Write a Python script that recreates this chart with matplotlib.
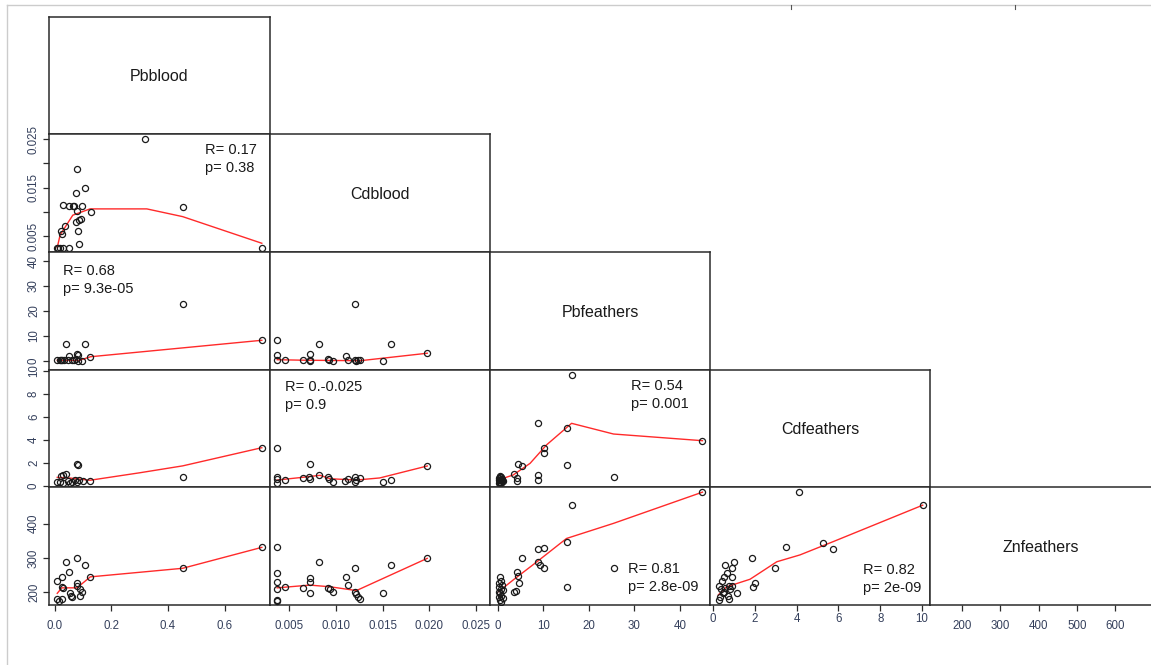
import matplotlib.pyplot as plt
from matplotlib.lines import Line2D

plt.rcParams['font.family'] = ['Liberation Sans', 'DejaVu Sans']

# 变量名
variables = ['Pbblood', 'Cdblood', 'Pbfeathers', 'Cdfeathers', 'Znfeathers']

# 数据
# Pbblood - Cdblood
pbb_cdb_x = [0.32, 0.077, 0.074, 0.106, 0.027, 0.051, 0.063, 0.067, 0.094, 0.079, 0.126, 0.092, 0.086,
             0.074, 0.037, 0.022, 0.024, 0.082, 0.085, 0.452, 0.732, 0.006, 0.012, 0.018, 0.027, 0.05]
pbb_cdb_y = [0.025, 0.0189, 0.0139, 0.0149, 0.0114, 0.0111, 0.0112, 0.0112, 0.0111, 0.0102, 0.0100, 0.0086,
             0.0084, 0.0079, 0.0071, 0.0061, 0.0054, 0.0060, 0.0034, 0.0110, 0.0026, 0.0026, 0.0026, 0.0026,
             0.0026, 0.0026]
pbb_cdb_fx = [0.008, 0.018, 0.063, 0.124, 0.325, 0.452, 0.732]
pbb_cdb_fy = [0.0026, 0.0052, 0.0093, 0.0106, 0.0106, 0.0090, 0.0035]

# Pbblood - Pbfeathers
pbb_pbf_x = [0.452, 0.732, 0.039, 0.106, 0.051, 0.079, 0.083, 0.125, 0.0065, 0.016, 0.024, 0.032, 0.047,
             0.059, 0.067, 0.074, 0.082, 0.094, 0.020]
pbb_pbf_y = [22.6, 8.2, 6.6, 6.6, 1.9, 2.7, 2.3, 1.6, 0.3, 0.2, 0.3, 0.1, 0.1, 0.2, 0.1, 0.5, 0.0, 0.0, 0.1]
pbb_pbf_fx = [0.008, 0.085, 0.126, 0.732]
pbb_pbf_fy = [0.2, 0.1, 1.6, 8.2]

# Pbblood - Cdfeathers
pbb_cdf_x = [0.732, 0.452, 0.079, 0.083, 0.021, 0.029, 0.039, 0.008, 0.018, 0.027, 0.047, 0.059, 0.071,
             0.086, 0.098, 0.124, 0.053, 0.079]
pbb_cdf_y = [3.33, 0.78, 1.94, 1.80, 0.83, 0.97, 1.03, 0.32, 0.37, 0.29, 0.43, 0.32, 0.52, 0.52, 0.43,
             0.43, 0.23, 0.32]
pbb_cdf_fx = [0.008, 0.05, 0.124, 0.3, 0.452, 0.732]
pbb_cdf_fy = [0.75, 0.7, 0.5, 1.15, 1.75, 3.33]

# Pbblood - Znfeathers
pbb_zn_x = [0.732, 0.452, 0.079, 0.039, 0.051, 0.106, 0.125, 0.024, 0.006, 0.025, 0.027, 0.079, 0.079,
            0.090, 0.094, 0.054, 0.058, 0.060, 0.006, 0.015, 0.024, 0.090]
pbb_zn_y = [331, 270, 299, 288, 258, 279, 245, 244, 232, 216, 213, 228, 219, 209, 202, 197, 190, 187,
            180, 176, 180, 189]
pbb_zn_fx = [0.008, 0.024, 0.078, 0.125, 0.452, 0.732]
pbb_zn_fy = [197, 213, 213, 245, 270, 331]

# Cdblood - Pbfeathers
cdb_pbf_x = [0.01205, 0.0037, 0.00815, 0.0159, 0.0198, 0.0037, 0.0072, 0.0111, 0.0091, 0.0093, 0.0037,
             0.0045, 0.0065, 0.0072, 0.0072, 0.0097, 0.0113, 0.0120, 0.0122, 0.0124, 0.0126, 0.0150]
cdb_pbf_y = [22.6, 8.3, 6.6, 6.6, 3.0, 2.2, 2.6, 1.8, 0.6, 0.2, 0.4, 0.3, 0.1, 0.0, 0.3, 0.0, 0.1, 0.3,
             0.0, 0.2, 0.1, 0.0]
cdb_pbf_fx = [0.0037, 0.0065, 0.0126, 0.0198]
cdb_pbf_fy = [0.4, 0.2, 0.0, 3.0]

# Cdblood - Cdfeathers
cdb_cdf_x = [0.0037, 0.0072, 0.0082, 0.0198, 0.0159, 0.0150, 0.0037, 0.0037, 0.0037, 0.0045, 0.0065,
             0.0071, 0.0072, 0.0092, 0.0093, 0.0097, 0.0110, 0.0113, 0.0120, 0.0121, 0.0122, 0.0126]
cdb_cdf_y = [3.33, 1.94, 0.96, 1.74, 0.52, 0.35, 0.81, 0.58, 0.29, 0.52, 0.72, 0.76, 0.58, 0.81, 0.58,
             0.37, 0.46, 0.63, 0.81, 0.32, 0.52, 0.70]
cdb_cdf_fx = [0.0037, 0.0065, 0.0083, 0.0094, 0.0122, 0.0147, 0.0198]
cdb_cdf_fy = [0.52, 0.76, 0.93, 0.63, 0.52, 0.70, 1.74]

# Cdblood - Znfeathers
cdb_zn_x = [0.0037, 0.0198, 0.0159, 0.0082, 0.0120, 0.0111, 0.0113, 0.0037, 0.0037, 0.0037, 0.0037,
            0.0037, 0.0045, 0.0072, 0.0072, 0.0072, 0.0065, 0.0092, 0.0094, 0.0097, 0.0120, 0.0122,
            0.0124, 0.0126, 0.0150]
cdb_zn_y = [331, 299, 280, 287, 270, 245, 221, 257, 231, 209, 178, 175, 216, 243, 229, 197, 213, 212,
            209, 200, 200, 194, 187, 180, 197]
cdb_zn_fx = [0.0037, 0.0072, 0.0094, 0.0122, 0.0198]
cdb_zn_fy = [213, 221, 216, 205, 299]

# Pbfeathers - Cdfeathers
pbf_cdf_x = [16.2, 8.8, 15.1, 10.2, 10.2, 4.5, 5.3, 15.1, 3.6, 4.2, 4.2, 8.8, 8.8, 25.5, 44.9, 0.2, 0.4,
             0.6, 0.8, 1.0, 0.3, 0.5, 0.7, 0.9, 1.1, 0.2, 0.5, 0.8, 0.4, 1.0]
pbf_cdf_y = [9.68, 5.5, 5.07, 3.33, 2.9, 1.9, 1.74, 1.83, 1.0, 0.67, 0.46, 0.96, 0.52, 0.78, 3.94, 0.25,
             0.3, 0.35, 0.3, 0.4, 0.5, 0.55, 0.6, 0.5, 0.45, 0.7, 0.8, 0.75, 0.9, 0.65]
pbf_cdf_fx = [0.1, 3.4, 7.1, 10.7, 16.2, 25.4, 44.9]
pbf_cdf_fy = [0.52, 0.96, 1.97, 3.57, 5.45, 4.52, 3.94]

# Pbfeathers - Znfeathers
pbf_zn_x = [44.9, 16.2, 15.1, 10.2, 8.8, 5.3, 8.8, 9.2, 10.2, 4.3, 4.5, 4.7, 3.6, 4.0, 15.1, 25.5, 0.5,
            0.7, 0.2, 1.0, 0.2, 0.7, 1.1, 0.2, 0.5, 0.8, 0.2, 1.1, 0.4, 0.7]
pbf_zn_y = [492, 454, 346, 330, 325, 299, 289, 280, 270, 258, 247, 228, 202, 205, 216, 270, 244, 234,
            226, 221, 216, 209, 207, 202, 197, 189, 185, 182, 178, 173]
pbf_zn_fx = [0.2, 3.4, 8.6, 15.1, 25.4, 44.9]
pbf_zn_fy = [202, 236, 289, 357, 401, 492]

# Cdfeathers - Znfeathers
cdf_zn_x = [10.03, 4.1, 5.28, 5.73, 3.48, 2.98, 1.88, 1.93, 2.02, 1.02, 0.57, 0.89, 0.65, 0.53, 0.92,
            0.41, 0.29, 0.78, 1.13, 0.37, 0.57, 0.81, 0.46, 0.73, 0.30, 0.78, 0.33, 0.89, 0.53]
cdf_zn_y = [454, 492, 345, 325, 331, 270, 299, 216, 228, 289, 280, 270, 255, 245, 244, 234, 218, 218,
            199, 209, 212, 209, 197, 189, 178, 180, 187, 218, 202]
cdf_zn_fx = [0.25, 0.65, 1.77, 3.05, 4.16, 5.76, 10.03]
cdf_zn_fy = [192, 216, 238, 289, 309, 348, 454]

# 相关系数文字
stat_r = ['0.17', '0.68', '0.-0.025', '0.54', '0.81', '0.82']
stat_p = ['0.38', '9.3e-05', '0.9', '0.001', '2.8e-09', '2e-09']

# 刻度
x_ticks = [[0, 0.2, 0.4, 0.6], [0.005, 0.010, 0.015, 0.020, 0.025], [0, 10, 20, 30, 40],
           [0, 2, 4, 6, 8, 10], [200, 300, 400, 500, 600]]
x_labels = [['0.0', '0.2', '0.4', '0.6'], ['0.005', '0.010', '0.015', '0.020', '0.025'],
            ['0', '10', '20', '30', '40'], ['0', '2', '4', '6', '8', '10'],
            ['200', '300', '400', '500', '600']]
y_ticks = [None, [0.005, 0.010, 0.015, 0.020, 0.025], [0, 10, 20, 30, 40], [0, 2, 4, 6, 8, 10],
           [200, 300, 400]]
y_labels = [None, ['0.005', '', '0.015', '', '0.025'], ['0', '10', '20', '30', '40'],
            ['0', '2', '4', '6', '8', '10'], ['200', '300', '400']]

# 布局 (像素)
W, H = 1151, 665
col_edges = [49, 270, 490, 710, 930, 1151]
row_edges = [17, 134, 252, 370, 487, 605]
col_lims = [(-0.0212, 0.761), (0.00293, 0.02653), (-1.69, 46.56), (-0.144, 10.38), (116.4, 693.5)]
row_lims = [(0, 1), (0.001694, 0.026074), (-3.73, 43.65), (-0.087, 10.087), (162.97, 507.0)]

panels = {
    (1, 0): (pbb_cdb_x, pbb_cdb_y, pbb_cdb_fx, pbb_cdb_fy),
    (2, 0): (pbb_pbf_x, pbb_pbf_y, pbb_pbf_fx, pbb_pbf_fy),
    (3, 0): (pbb_cdf_x, pbb_cdf_y, pbb_cdf_fx, pbb_cdf_fy),
    (4, 0): (pbb_zn_x, pbb_zn_y, pbb_zn_fx, pbb_zn_fy),
    (2, 1): (cdb_pbf_x, cdb_pbf_y, cdb_pbf_fx, cdb_pbf_fy),
    (3, 1): (cdb_cdf_x, cdb_cdf_y, cdb_cdf_fx, cdb_cdf_fy),
    (4, 1): (cdb_zn_x, cdb_zn_y, cdb_zn_fx, cdb_zn_fy),
    (3, 2): (pbf_cdf_x, pbf_cdf_y, pbf_cdf_fx, pbf_cdf_fy),
    (4, 2): (pbf_zn_x, pbf_zn_y, pbf_zn_fx, pbf_zn_fy),
    (4, 3): (cdf_zn_x, cdf_zn_y, cdf_zn_fx, cdf_zn_fy),
}
stat_panels = [(1, 0), (2, 0), (3, 1), (3, 2), (4, 2), (4, 3)]
stat_pos = [(205, 150), (63, 271), (285, 387), (631, 386), (628, 569), (863, 570)]

line_c = '#2b2b2b'
tick_c = '#35405c'

fig = plt.figure(figsize=(W / 100, H / 100), dpi=100)


def add_panel(r, c):
    x0, x1 = col_edges[c], col_edges[c + 1]
    y0, y1 = row_edges[r], row_edges[r + 1]
    ax = fig.add_axes([x0 / W, 1 - y1 / H, (x1 - x0) / W, (y1 - y0) / H])
    ax.set_xlim(col_lims[c])
    ax.set_ylim(row_lims[r])
    for s in ax.spines.values():
        s.set_color(line_c)
        s.set_linewidth(1.1)
    ax.tick_params(left=False, bottom=False, labelleft=False, labelbottom=False)
    if r == 4:
        ax.set_xticks(x_ticks[c])
        ax.set_xticklabels(x_labels[c])
        ax.tick_params(axis='x', bottom=True, labelbottom=True, length=4.5, width=0.9,
                       color=line_c, labelcolor=tick_c, labelsize=8.3,
                       pad=1.5 if c == 3 else 6.5)
    if c == 0 and r > 0:
        ax.set_yticks(y_ticks[r])
        ax.set_yticklabels(y_labels[r])
        ax.tick_params(axis='y', left=True, labelleft=True, length=4.5, width=0.9,
                       color=line_c, labelcolor=tick_c, labelsize=8.3, pad=2, labelrotation=90)
        for lab in ax.get_yticklabels():
            lab.set_va('center')
    return ax


for r in range(5):
    for c in range(r + 1):
        ax = add_panel(r, c)
        if r == c:
            ax.text(0.5, 0.49, variables[r], transform=ax.transAxes, ha='center', va='center',
                    fontsize=11.5, color='#1a1a1a')
            if r == 4:
                ax.spines['right'].set_visible(False)
        else:
            px, py, fx, fy = panels[(r, c)]
            ax.plot(fx, fy, color='#ff2a2a', lw=1.0, zorder=2)
            ax.plot(px, py, 'o', mfc='none', mec='#1a1a1a', ms=4.4, mew=0.9, zorder=3)

# R 和 p 值
for i, (x, y) in enumerate(stat_pos):
    fig.text(x / W, 1 - y / H, 'R= ' + stat_r[i], ha='left', va='center', fontsize=10.5, color='#1a1a1a')
    fig.text(x / W, 1 - (y + 18) / H, 'p= ' + stat_p[i], ha='left', va='center', fontsize=10.5,
             color='#1a1a1a')

# 外框
fig.add_artist(Line2D([7 / W, 7 / W], [0, 1 - 5 / H], transform=fig.transFigure, color='#cccccc', lw=1))
fig.add_artist(Line2D([7 / W, 1], [1 - 5 / H, 1 - 5 / H], transform=fig.transFigure, color='#cccccc', lw=1))
for tx in [791, 1015]:
    fig.add_artist(Line2D([tx / W, tx / W], [1 - 5 / H, 1 - 9 / H], transform=fig.transFigure,
                          color='#555555', lw=0.8))

fig.savefig('out.png', dpi=100)
